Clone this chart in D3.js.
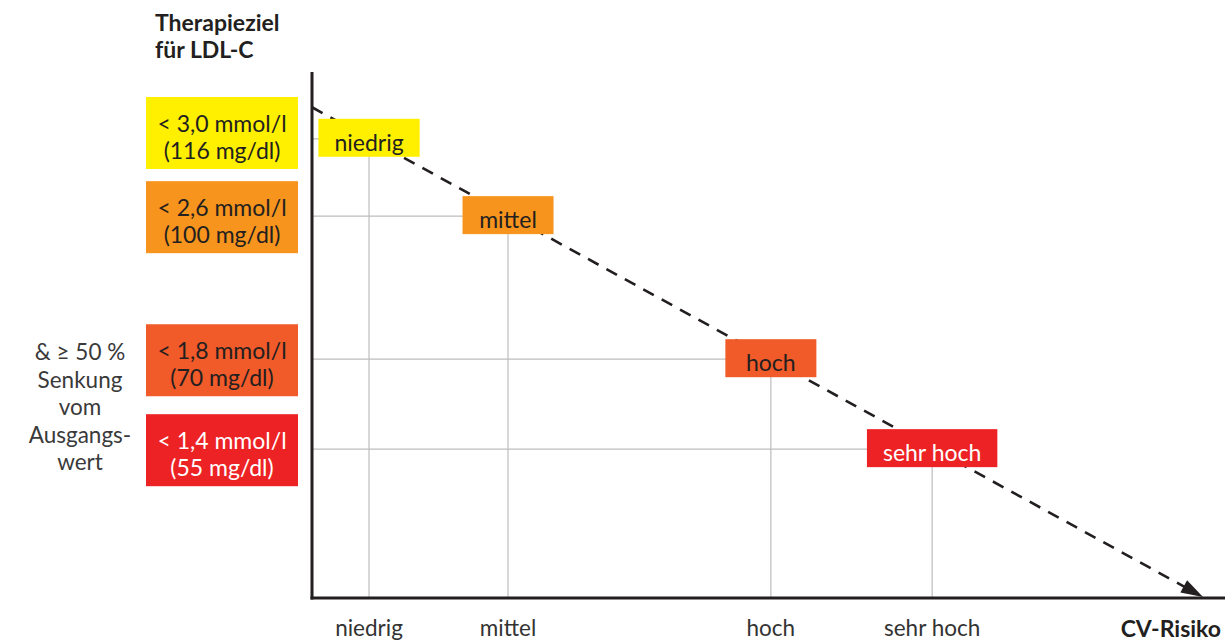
<!DOCTYPE html>
<html>
<head>
<meta charset="utf-8">
<script src="https://cdn.jsdelivr.net/npm/d3@7"></script>
<style>
  body { margin: 0; background: #fff; }
  svg text { font-family: Lato, "Open Sans", sans-serif; fill: #231f20; }
</style>
</head>
<body>
<div id="chart"></div>
<script>
// risk categories and their LDL-C targets
const categories = ["niedrig", "mittel", "hoch", "sehr hoch"];
const targetMmol = ["< 3,0 mmol/l", "< 2,6 mmol/l", "< 1,8 mmol/l", "< 1,4 mmol/l"];
const targetMg = ["(116 mg/dl)", "(100 mg/dl)", "(70 mg/dl)", "(55 mg/dl)"];
const colors = ["#fff000", "#f7941d", "#f15a29", "#ed2224"];
const labelColors = ["#231f20", "#231f20", "#231f20", "#ffffff"];

// position on the risk axis (0 = origin, 100 = arrow tip)
const riskPos = [6.4, 22.0, 51.5, 69.6];
// height of each target level (0 = x axis, 100 = top of y axis)
const targetLevel = [87.3, 72.6, 45.4, 28.3];
// the left boxes sit slightly off the grid line for the top one
const boxLevel = [88.4, 72.4, 45.2, 28.1];
// dashed trend: start on y axis, end at arrow tip
const trendLevel = [93.3, 0.2];

const noteLines = ["& \u2265 50 %", "Senkung", "vom", "Ausgangs-", "wert"];

const W = 1225, H = 642;
const svg = d3.select("#chart").append("svg")
  .attr("width", W).attr("height", H);

const x = d3.scaleLinear().domain([0, 100]).range([312, 1203]);
const y = d3.scaleLinear().domain([0, 100]).range([598, 72]);

// grid lines: horizontal from axis to point, vertical from point down to axis
categories.forEach((c, i) => {
  svg.append("line")
    .attr("x1", x(0)).attr("x2", x(riskPos[i]))
    .attr("y1", y(targetLevel[i])).attr("y2", y(targetLevel[i]))
    .attr("stroke", "#bdbdbd").attr("stroke-width", 1.2);
  svg.append("line")
    .attr("x1", x(riskPos[i])).attr("x2", x(riskPos[i]))
    .attr("y1", y(targetLevel[i])).attr("y2", y(0))
    .attr("stroke", "#bdbdbd").attr("stroke-width", 1.2);
});

// axes
svg.append("line")
  .attr("x1", x(0)).attr("x2", x(0))
  .attr("y1", y(100)).attr("y2", y(0) + 1.5)
  .attr("stroke", "#231f20").attr("stroke-width", 3);
svg.append("line")
  .attr("x1", x(0) - 1.5).attr("x2", W)
  .attr("y1", y(0)).attr("y2", y(0))
  .attr("stroke", "#231f20").attr("stroke-width", 3);

// dashed trend line with arrow head at the end
const x0 = x(0), y0 = y(trendLevel[0]);
const x1 = x(100), y1 = y(trendLevel[1]);
const ang = Math.atan2(y1 - y0, x1 - x0);
const headLen = 22, headHalf = 7;
const bx = x1 - headLen * Math.cos(ang), by = y1 - headLen * Math.sin(ang);

svg.append("line")
  .attr("x1", x0).attr("y1", y0)
  .attr("x2", bx + 4 * Math.cos(ang)).attr("y2", by + 4 * Math.sin(ang))
  .attr("stroke", "#231f20")
  .attr("stroke-width", 2.6)
  .attr("stroke-dasharray", "12,9");

svg.append("path")
  .attr("d", d3.line()([
    [x1, y1],
    [bx - headHalf * Math.sin(ang), by + headHalf * Math.cos(ang)],
    [bx + headHalf * Math.sin(ang), by - headHalf * Math.cos(ang)]
  ]) + "Z")
  .attr("fill", "#231f20");

// category boxes on the trend
const boxH = 38;
categories.forEach((c, i) => {
  const g = svg.append("g");
  const t = g.append("text")
    .attr("x", x(riskPos[i]))
    .attr("y", y(targetLevel[i]) + 12)
    .attr("text-anchor", "middle")
    .style("font-size", "23px")
    .style("fill", labelColors[i])
    .text(c);
  const bw = Math.max(91, t.node().getComputedTextLength() + 32);
  g.insert("rect", "text")
    .attr("x", x(riskPos[i]) - bw / 2)
    .attr("y", y(targetLevel[i]) - boxH / 2 - 1)
    .attr("width", bw)
    .attr("height", boxH)
    .attr("fill", colors[i]);
});

// target boxes left of the axis
targetMmol.forEach((m, i) => {
  const top = y(boxLevel[i]) - 36;
  svg.append("rect")
    .attr("x", 146).attr("y", top)
    .attr("width", 152).attr("height", 72)
    .attr("fill", colors[i]);
  svg.append("text")
    .attr("x", 222).attr("y", top + 35)
    .attr("text-anchor", "middle")
    .style("font-size", "23px")
    .style("fill", labelColors[i])
    .text(m);
  svg.append("text")
    .attr("x", 222).attr("y", top + 62)
    .attr("text-anchor", "middle")
    .style("font-size", "23px")
    .style("fill", labelColors[i])
    .text(targetMg[i]);
});

// x tick labels
categories.forEach((c, i) => {
  svg.append("text")
    .attr("x", x(riskPos[i]))
    .attr("y", 636)
    .attr("text-anchor", "middle")
    .style("font-size", "22.5px")
    .style("fill", "#333")
    .text(c);
});

// axis titles
svg.append("text")
  .attr("x", 1221).attr("y", 637)
  .attr("text-anchor", "end")
  .style("font-size", "23px")
  .style("font-weight", "bold")
  .text("CV-Risiko");

const title = svg.append("text")
  .attr("x", 155).attr("y", 31)
  .style("font-size", "23px")
  .style("font-weight", "bold");
title.append("tspan").attr("x", 155).text("Therapieziel");
title.append("tspan").attr("x", 155).attr("dy", 27).text("f\u00fcr LDL-C");

// note next to the two lower targets
noteLines.forEach((l, i) => {
  svg.append("text")
    .attr("x", 80).attr("y", 360 + i * 27.5)
    .attr("text-anchor", "middle")
    .style("font-size", "22.5px")
    .style("fill", "#3a3a3a")
    .text(l);
});
</script>
</body>
</html>
